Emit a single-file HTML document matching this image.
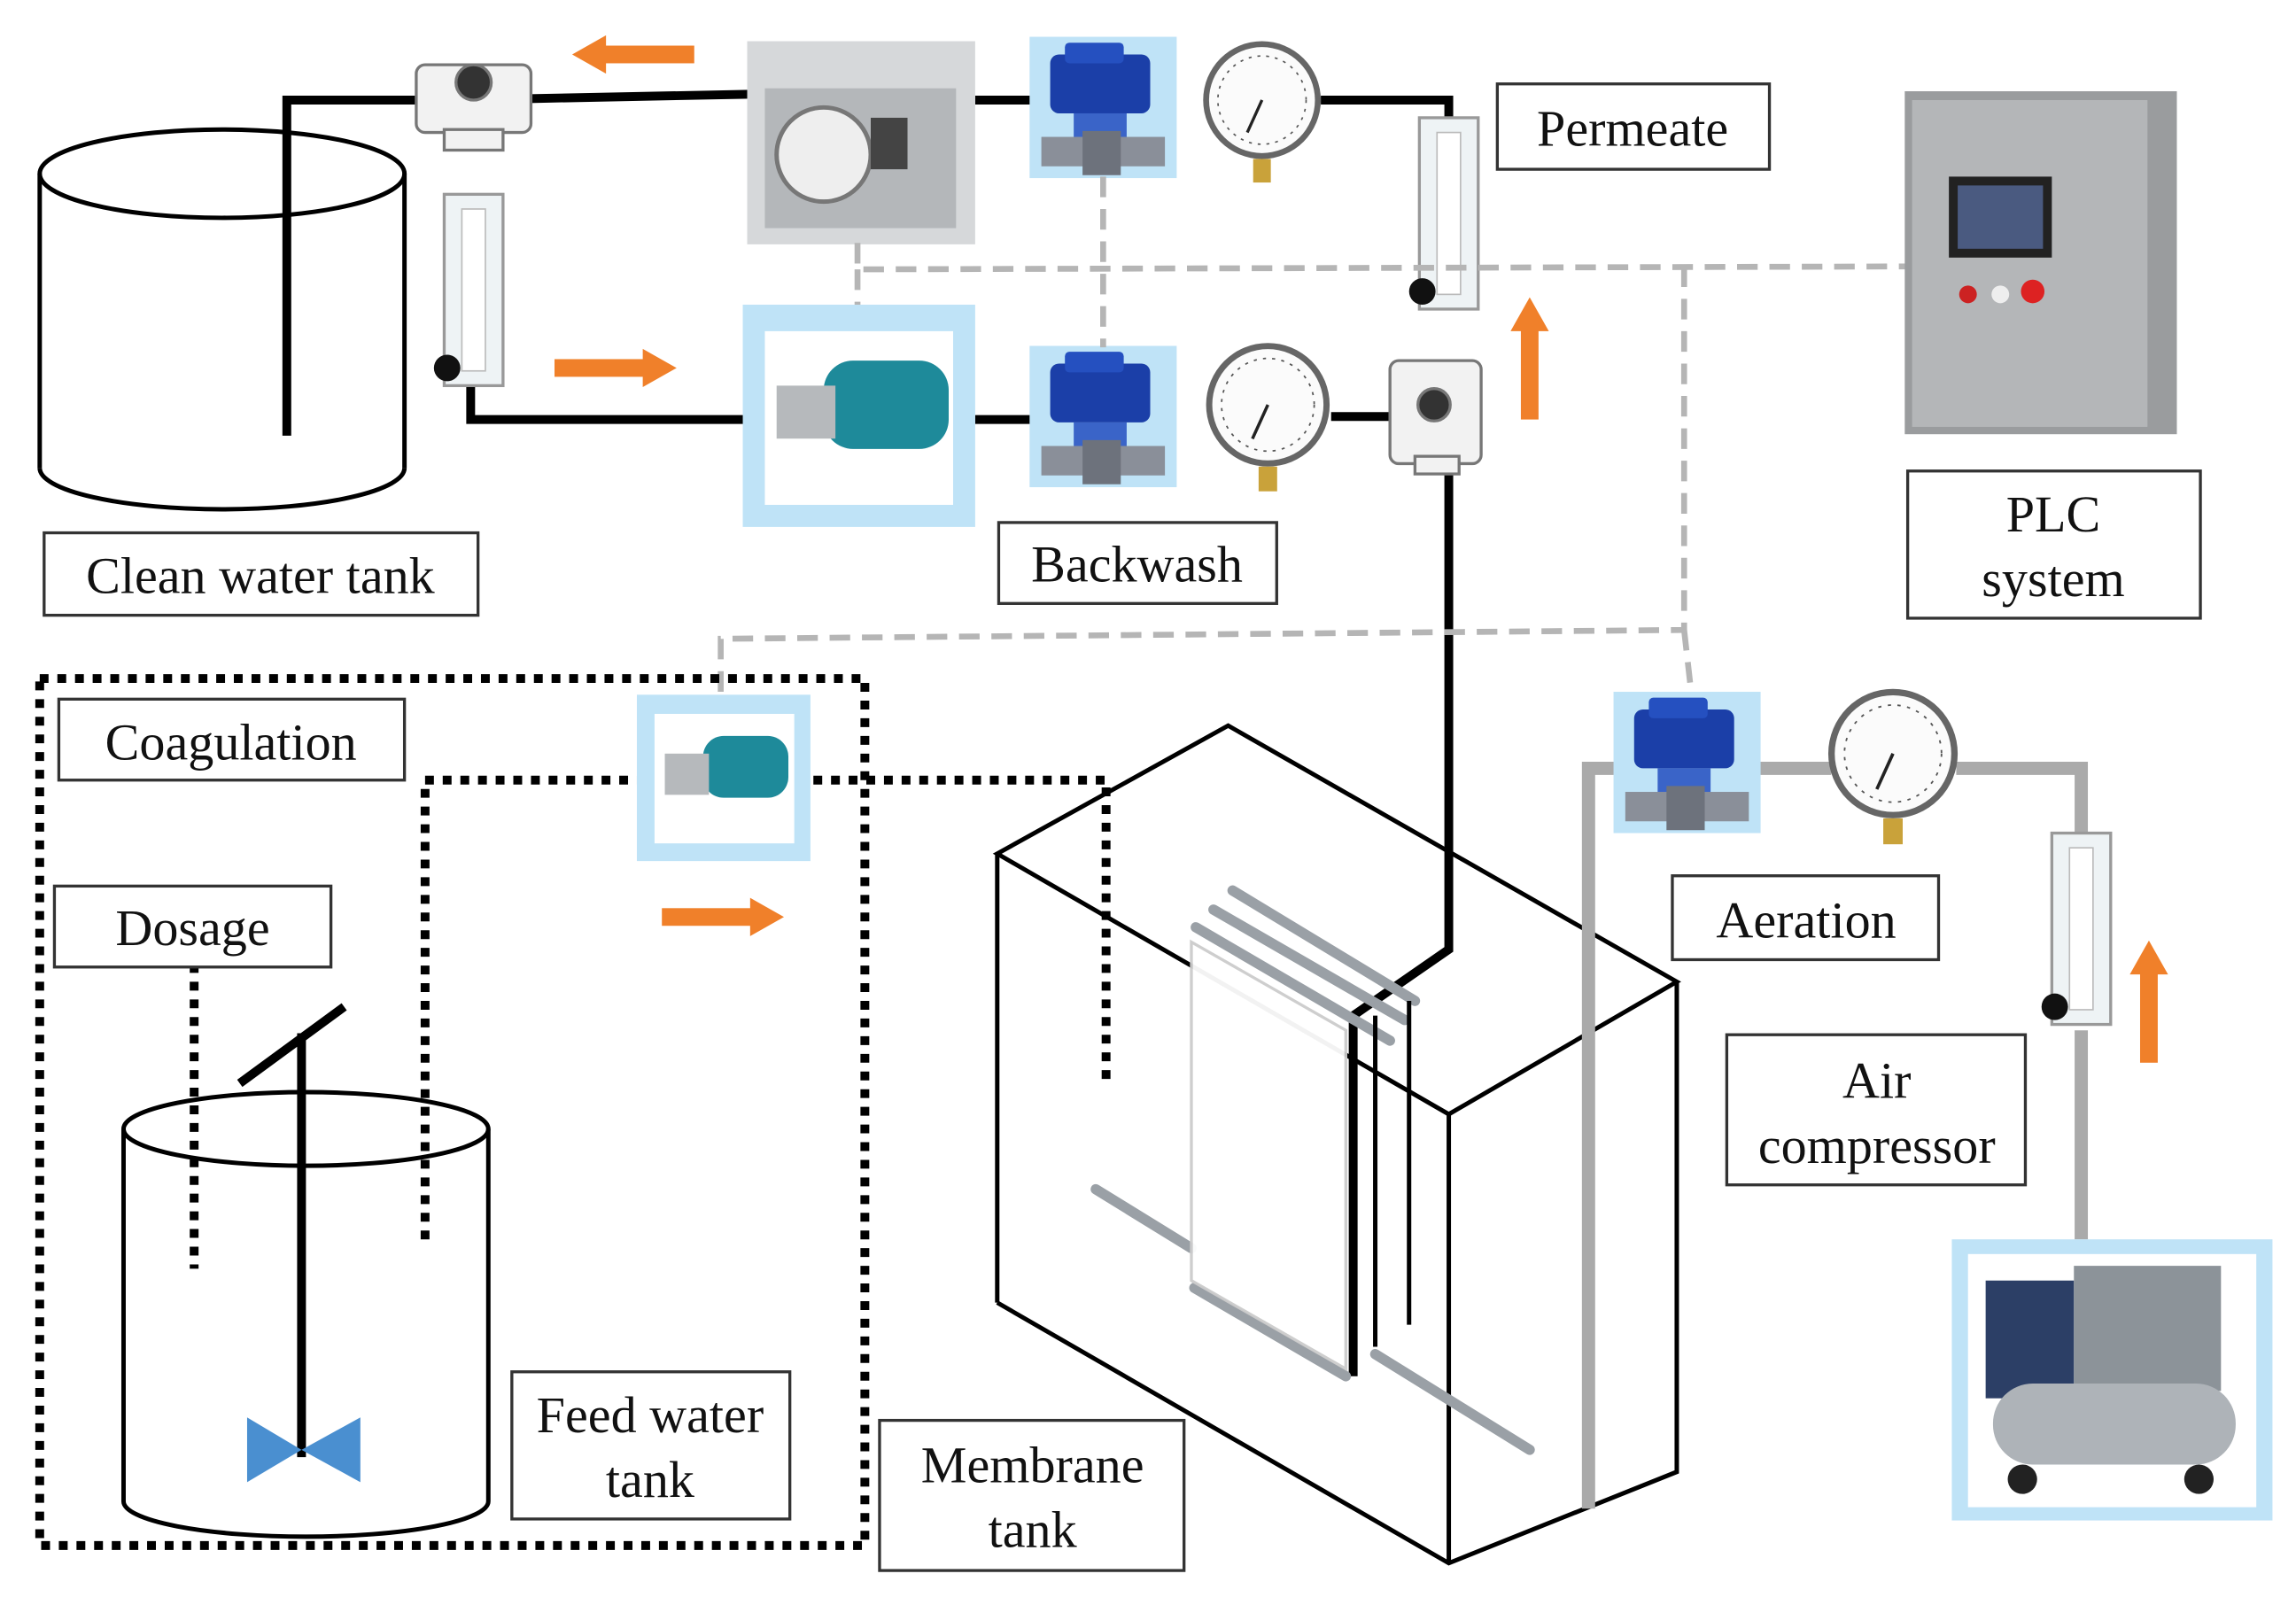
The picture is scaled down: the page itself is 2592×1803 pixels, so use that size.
<!DOCTYPE html>
<html><head><meta charset="utf-8"><style>
html,body{margin:0;padding:0;background:#fff}
svg{display:block}
text{font-family:"Liberation Serif",serif;font-size:35px;fill:#111}
</style></head><body>
<svg width="2592" height="1803" viewBox="0 0 1561 1085" preserveAspectRatio="none" xmlns="http://www.w3.org/2000/svg">
<defs>
<g id="bvalve">
  <rect x="0" y="0" width="100" height="96" fill="#bfe3f7"/>
  <rect x="14" y="12" width="68" height="40" rx="6" fill="#1b3fa8"/>
  <rect x="24" y="4" width="40" height="14" rx="3" fill="#2550c0"/>
  <rect x="30" y="52" width="36" height="22" fill="#3a64c8"/>
  <rect x="8" y="68" width="84" height="20" fill="#8a8f99"/>
  <rect x="36" y="64" width="26" height="30" fill="#6d727c"/>
</g>
<g id="gauge">
  <circle r="40" fill="#666"/><circle r="36" fill="#fbfbfb"/>
  <circle r="30" fill="none" stroke="#555" stroke-width="1" stroke-dasharray="2,4"/>
  <line x1="0" y1="0" x2="-10" y2="22" stroke="#222" stroke-width="2"/>
  <rect x="-6" y="40" width="12" height="16" fill="#c9a23a"/>
</g>
<g id="flow">
  <rect x="0" y="0" width="40" height="130" fill="#eef3f5" stroke="#999" stroke-width="2"/>
  <rect x="12" y="10" width="16" height="110" fill="#fff" stroke="#bbb"/>
  <circle cx="2" cy="118" r="9" fill="#111"/>
</g>
<g id="arrowR"><rect x="0" y="-6" width="62" height="12" fill="#f0802a"/><polygon points="60,-13 83,0 60,13" fill="#f0802a"/></g>
</defs>

<g fill="none" stroke="#000" stroke-width="3">
<ellipse cx="151" cy="118" rx="124" ry="30"/>
<line x1="27" y1="118" x2="27" y2="318"/><line x1="275" y1="118" x2="275" y2="318"/>
<path d="M27 318 A124 28 0 0 0 275 318"/>
</g>
<g fill="none" stroke="#000" stroke-width="6">
<polyline points="195,296 195,68 285,68"/>
<line x1="360" y1="67" x2="510" y2="64"/>
<line x1="663" y1="68" x2="705" y2="68"/>
<polyline points="898,68 985,68 985,82"/>
<polyline points="320,262 320,285 508,285"/>
<line x1="663" y1="285" x2="705" y2="285"/>
<line x1="905" y1="283" x2="945" y2="283"/>
<polyline points="985,320 985,645 920,690 920,935"/>
</g>
<g fill="#f2f2f2" stroke="#777" stroke-width="2">
<rect x="283" y="44" width="78" height="46" rx="6"/>
<rect x="302" y="88" width="40" height="14"/>
<circle cx="322" cy="56" r="12" fill="#333"/>
<rect x="945" y="245" width="62" height="70" rx="6"/>
<rect x="962" y="310" width="30" height="12"/>
<circle cx="975" cy="275" r="11" fill="#333"/>
</g>
<rect x="508" y="28" width="155" height="138" fill="#d6d8da"/>
<rect x="520" y="60" width="130" height="95" fill="#b4b7ba"/>
<circle cx="560" cy="105" r="32" fill="#eee" stroke="#777" stroke-width="3"/>
<rect x="592" y="80" width="25" height="35" fill="#444"/>
<rect x="505" y="207" width="158" height="151" fill="#bfe3f7"/>
<rect x="520" y="225" width="128" height="118" fill="#fff"/>
<rect x="560" y="245" width="85" height="60" rx="20" fill="#1e8a9a"/>
<rect x="528" y="262" width="40" height="36" fill="#b6b9bc"/>
<use href="#bvalve" x="700" y="25"/>
<use href="#bvalve" x="700" y="235"/>
<use href="#gauge" transform="translate(858 68)"/>
<use href="#gauge" transform="translate(862 275) scale(1.05)"/>
<use href="#flow" x="965" y="80"/>
<use href="#flow" x="302" y="132"/>

<g fill="none" stroke="#b5b5b5" stroke-width="4" stroke-dasharray="14,8">
<polyline points="583,165 583,183 1298,181"/>
<line x1="583" y1="183" x2="583" y2="207"/>
<line x1="750" y1="120" x2="750" y2="236"/>
<polyline points="1145,181 1145,428 490,434 490,472"/>
<line x1="1145" y1="428" x2="1150" y2="472"/>
</g>

<rect x="1295" y="62" width="185" height="233" fill="#9a9c9e"/>
<rect x="1300" y="68" width="160" height="222" fill="#b4b6b8"/>
<rect x="1325" y="120" width="70" height="55" fill="#222"/><rect x="1331" y="126" width="58" height="43" fill="#4a5a80"/>
<circle cx="1338" cy="200" r="6" fill="#c22"/><circle cx="1360" cy="200" r="6" fill="#eee"/><circle cx="1382" cy="198" r="8" fill="#d22"/>

<use href="#arrowR" transform="translate(472 37) scale(-1 1)"/>
<use href="#arrowR" transform="translate(377 250)"/>
<use href="#arrowR" transform="translate(1040 285) rotate(-90)"/>
<use href="#arrowR" transform="translate(450 623)"/>
<use href="#arrowR" transform="translate(1461 722) rotate(-90)"/>

<g fill="none" stroke="#000" stroke-width="6" stroke-dasharray="6,6">
<rect x="27" y="461" width="561" height="589"/>
<polyline points="289,842 289,530 752,530 752,738"/>
<line x1="132" y1="655" x2="132" y2="862"/>
</g>
<rect x="433" y="472" width="118" height="113" fill="#bfe3f7"/>
<rect x="445" y="485" width="95" height="88" fill="#fff"/>
<rect x="478" y="500" width="58" height="42" rx="14" fill="#1e8a9a"/>
<rect x="452" y="512" width="30" height="28" fill="#b6b9bc"/>

<g fill="none" stroke="#000" stroke-width="3">
<ellipse cx="208" cy="767" rx="124" ry="25"/>
<line x1="84" y1="767" x2="84" y2="1020"/><line x1="332" y1="767" x2="332" y2="1020"/>
<path d="M84 1020 A124 24 0 0 0 332 1020"/>
</g>
<line x1="205" y1="990" x2="205" y2="702" stroke="#000" stroke-width="6"/>
<line x1="163" y1="736" x2="234" y2="684" stroke="#000" stroke-width="6"/>
<polygon points="168,963 205,985 168,1007" fill="#4a8fd0"/>
<polygon points="245,963 205,985 245,1007" fill="#4a8fd0"/>

<g fill="none" stroke="#000" stroke-width="3">
<polygon points="678,580 835,493 1140,667 985,757"/>
<line x1="678" y1="580" x2="678" y2="885"/>
<polyline points="678,885 985,1062 1140,1000 1140,667"/>
<line x1="985" y1="757" x2="985" y2="1062"/>
</g>
<g stroke="#9aa0a6" stroke-width="7" stroke-linecap="round">
<line x1="813" y1="630" x2="945" y2="707"/>
<line x1="825" y1="618" x2="955" y2="693"/>
<line x1="838" y1="605" x2="962" y2="680"/>
<line x1="745" y1="808" x2="810" y2="848"/>
<line x1="812" y1="875" x2="915" y2="935"/>
<line x1="935" y1="920" x2="1040" y2="985"/>
</g>
<polygon points="810,640 915,700 915,930 810,870" fill="#fff" stroke="#ccc" stroke-width="2" opacity="0.95"/>
<g stroke="#000" stroke-width="3"><line x1="935" y1="690" x2="935" y2="915"/><line x1="958" y1="680" x2="958" y2="900"/></g>

<g fill="none" stroke="#aaa" stroke-width="9">
<polyline points="1080,1025 1080,522 1100,522"/>
<line x1="1195" y1="522" x2="1245" y2="522"/>
<polyline points="1330,522 1415,522 1415,566"/>
<line x1="1415" y1="700" x2="1415" y2="842"/>
</g>
<use href="#bvalve" x="1097" y="470"/>
<use href="#gauge" transform="translate(1287 512) scale(1.1)"/>
<use href="#flow" x="1395" y="566"/>
<rect x="1327" y="842" width="218" height="191" fill="#bfe3f7"/>
<rect x="1338" y="852" width="196" height="172" fill="#fff"/>
<rect x="1350" y="870" width="60" height="80" fill="#2c3f66"/>
<rect x="1410" y="860" width="100" height="85" fill="#8c9399"/>
<rect x="1355" y="940" width="165" height="55" rx="27" fill="#aeb3b8"/>
<circle cx="1375" cy="1005" r="10" fill="#222"/><circle cx="1495" cy="1005" r="10" fill="#222"/>

<g fill="#fff" stroke="#333" stroke-width="2">
<rect x="1018" y="57" width="185" height="58"/>
<rect x="30" y="362" width="295" height="56"/>
<rect x="679" y="355" width="189" height="55"/>
<rect x="1297" y="320" width="199" height="100"/>
<rect x="40" y="475" width="235" height="55"/>
<rect x="37" y="602" width="188" height="55"/>
<rect x="1137" y="595" width="181" height="57"/>
<rect x="1174" y="703" width="203" height="102"/>
<rect x="348" y="932" width="189" height="100"/>
<rect x="598" y="965" width="207" height="102"/>
</g>
<g text-anchor="middle">
<text x="1110" y="99">Permeate</text>
<text x="177" y="403">Clean water tank</text>
<text x="773" y="395">Backwash</text>
<text x="1396" y="361">PLC</text><text x="1396" y="405">system</text>
<text x="157" y="516">Coagulation</text>
<text x="131" y="642">Dosage</text>
<text x="1228" y="637">Aeration</text>
<text x="1276" y="746">Air</text><text x="1276" y="790">compressor</text>
<text x="442" y="973">Feed water</text><text x="442" y="1017">tank</text>
<text x="702" y="1007">Membrane</text><text x="702" y="1051">tank</text>
</g>
</svg>
</body></html>
